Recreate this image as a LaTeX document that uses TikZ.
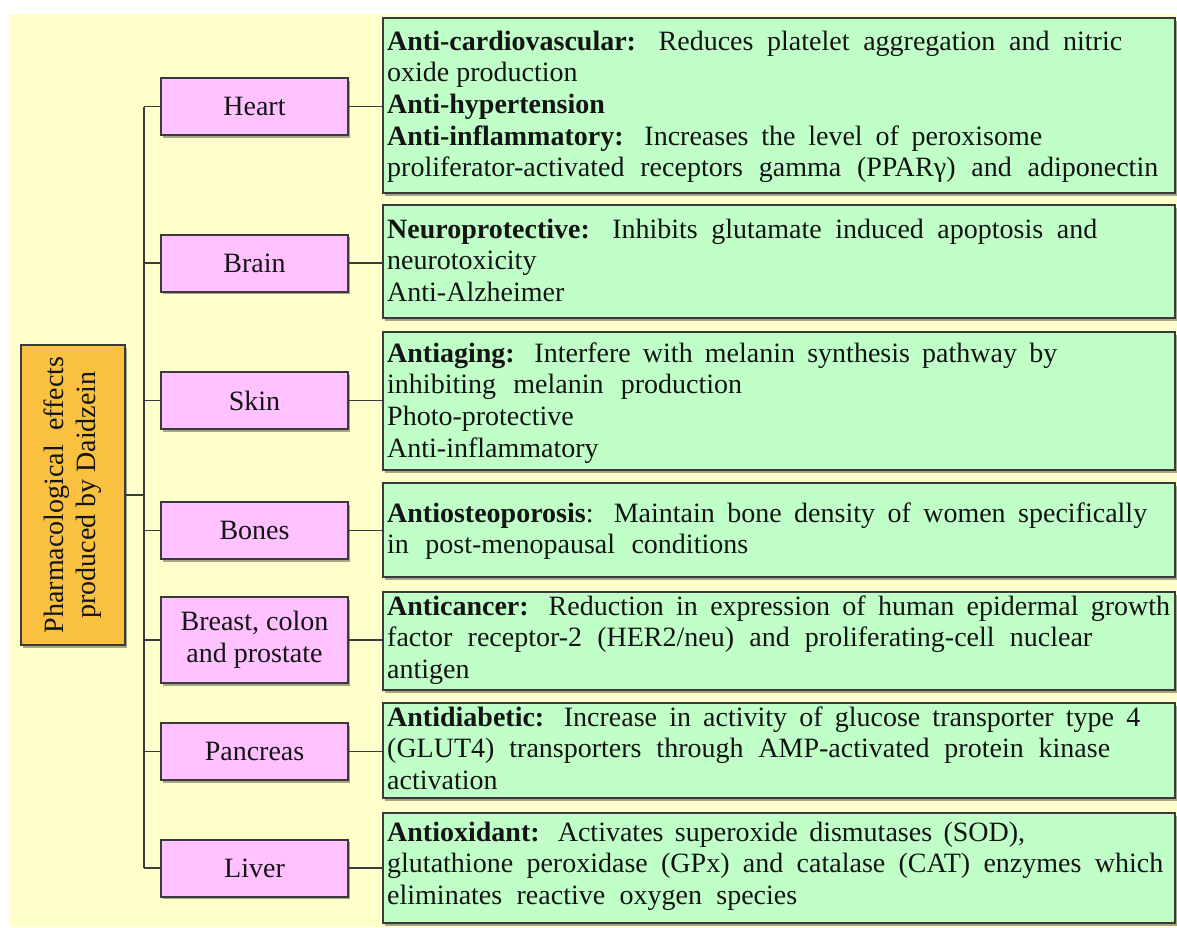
\documentclass[tikz,border=0pt]{standalone}
\usepackage{fontspec}
\setmainfont{Liberation Serif}
\usetikzlibrary{shadows}
\definecolor{bgyellow}{RGB}{255,255,204}
\definecolor{pinkfill}{RGB}{255,193,255}
\definecolor{greenfill}{RGB}{192,255,200}
\definecolor{rootfill}{RGB}{250,192,64}
\definecolor{edgecol}{RGB}{58,58,58}
\definecolor{txtcol}{RGB}{20,20,20}
\newcommand\fs{\fontsize{28}{31.7}\selectfont}
\newcommand\ws{\spaceskip=0.25em plus 2em minus 0.08em\relax}
\newcommand\jline[2]{\makebox[#1pt][s]{#2}}
\newcommand\lines[1]{\begin{tabular}[t]{@{}l@{}}#1\end{tabular}}
\tikzset{
  box/.style={draw=edgecol, line width=2pt,
    drop shadow={shadow xshift=2pt, shadow yshift=-2.5pt, opacity=0.35, fill=black}},
  midbox/.style={box, fill=pinkfill, minimum width=187pt, minimum height=57pt,
    inner sep=0pt, font=\fs, text=txtcol, align=center},
  rootbox/.style={box, fill=rootfill, rotate=90, minimum width=300pt, minimum height=104pt,
    inner sep=0pt, font=\fs, text=txtcol, align=center},
  effbox/.style={box, fill=greenfill, line width=2.5pt, minimum width=792pt, inner sep=0pt},
  efftext/.style={anchor=base west, inner sep=0pt, font=\fs\ws, text=txtcol},
  link/.style={draw=edgecol, line width=1.6pt},
}
\begin{document}
\begin{tikzpicture}[x=1pt,y=-1pt]
\useasboundingbox (0,0) rectangle (1177,927);
\fill[bgyellow] (9,14) rectangle (1177,927);

% root
\node[rootbox] (root) at (73,495) {Pharmacological\ \ effects\\produced by Daidzein};

% middle boxes
\node[midbox] (heart) at (254.5,106.5) {Heart};
\node[midbox] (brain) at (254.5,263) {Brain};
\node[midbox] (skin) at (254.5,400.5) {Skin};
\node[midbox] (bones) at (254.5,530.5) {Bones};
\node[midbox, minimum height=86pt, font=\fontsize{28}{32}\selectfont] (breast) at (254.5,640) {Breast, colon\\and prostate};
\node[midbox] (pancreas) at (254.5,751.5) {Pancreas};
\node[midbox] (liver) at (254.5,868) {Liver};

% effect boxes
\node[effbox, minimum height=175pt] (g1) at (779,105.5) {};
\node[effbox, minimum height=113pt] (g2) at (779,261.5) {};
\node[effbox, minimum height=138pt] (g3) at (779,401) {};
\node[effbox, minimum height=94pt] (g4) at (779,530) {};
\node[effbox, minimum height=98pt] (g5) at (779,641) {};
\node[effbox, minimum height=95pt] (g6) at (779,750.5) {};
\node[effbox, minimum height=110pt] (g7) at (779,868) {};

% texts
\node[efftext] (t1) at (387,50) {\lines{%
\jline{735}{\textbf{Anti-cardiovascular:} Reduces platelet aggregation and nitric}\\
oxide production\\
\textbf{Anti-hypertension}\\
\jline{655}{\textbf{Anti-inflammatory:} Increases the level of peroxisome}\\
\jline{771}{proliferator-activated receptors gamma (PPARγ) and adiponectin}}};
\node[efftext] (t2) at (387,238) {\lines{%
\jline{710}{\textbf{Neuroprotective:} Inhibits glutamate induced apoptosis and}\\
neurotoxicity\\
Anti-Alzheimer}};
\node[efftext] (t3) at (387,362) {\lines{%
\jline{670}{\textbf{Antiaging:} Interfere with melanin synthesis pathway by}\\
\jline{355}{inhibiting melanin production}\\
Photo-protective\\
Anti-inflammatory}};
\node[efftext] (t4) at (387,522) {\lines{%
\jline{760}{\textbf{Antiosteoporosis}: Maintain bone density of women specifically}\\
\jline{361}{in post-menopausal conditions}}};
\node[efftext] (t5) at (387,615) {\lines{%
\jline{783}{\textbf{Anticancer:} Reduction in expression of human epidermal growth}\\
\jline{705}{factor receptor-2 (HER2/neu) and proliferating-cell nuclear}\\
antigen}};
\node[efftext] (t6) at (387,726) {\lines{%
\jline{753}{\textbf{Antidiabetic:} Increase in activity of glucose transporter type 4}\\
\jline{723}{(GLUT4) transporters through AMP-activated protein kinase}\\
activation}};
\node[efftext] (t7) at (387,841) {\lines{%
\jline{638}{\textbf{Antioxidant:} Activates superoxide dismutases (SOD),}\\
\jline{776}{glutathione peroxidase (GPx) and catalase (CAT) enzymes which}\\
\jline{410}{eliminates reactive oxygen species}}};

% connectors
\coordinate (j) at (144,495);
\coordinate (jtop) at (144,106.5);
\coordinate (jbot) at (144,868);
\draw[link] (root.south) -- (j);
\draw[link] (jtop) -- (jbot);
\foreach \m in {heart,brain,skin,bones,breast,pancreas,liver}{
  \draw[link] (j |- \m.west) -- (\m.west);
}
\draw[link] (heart.east) -- (heart.east -| g1.west);
\draw[link] (brain.east) -- (brain.east -| g2.west);
\draw[link] (skin.east) -- (skin.east -| g3.west);
\draw[link] (bones.east) -- (bones.east -| g4.west);
\draw[link] (breast.east) -- (breast.east -| g5.west);
\draw[link] (pancreas.east) -- (pancreas.east -| g6.west);
\draw[link] (liver.east) -- (liver.east -| g7.west);
\end{tikzpicture}
\end{document}
